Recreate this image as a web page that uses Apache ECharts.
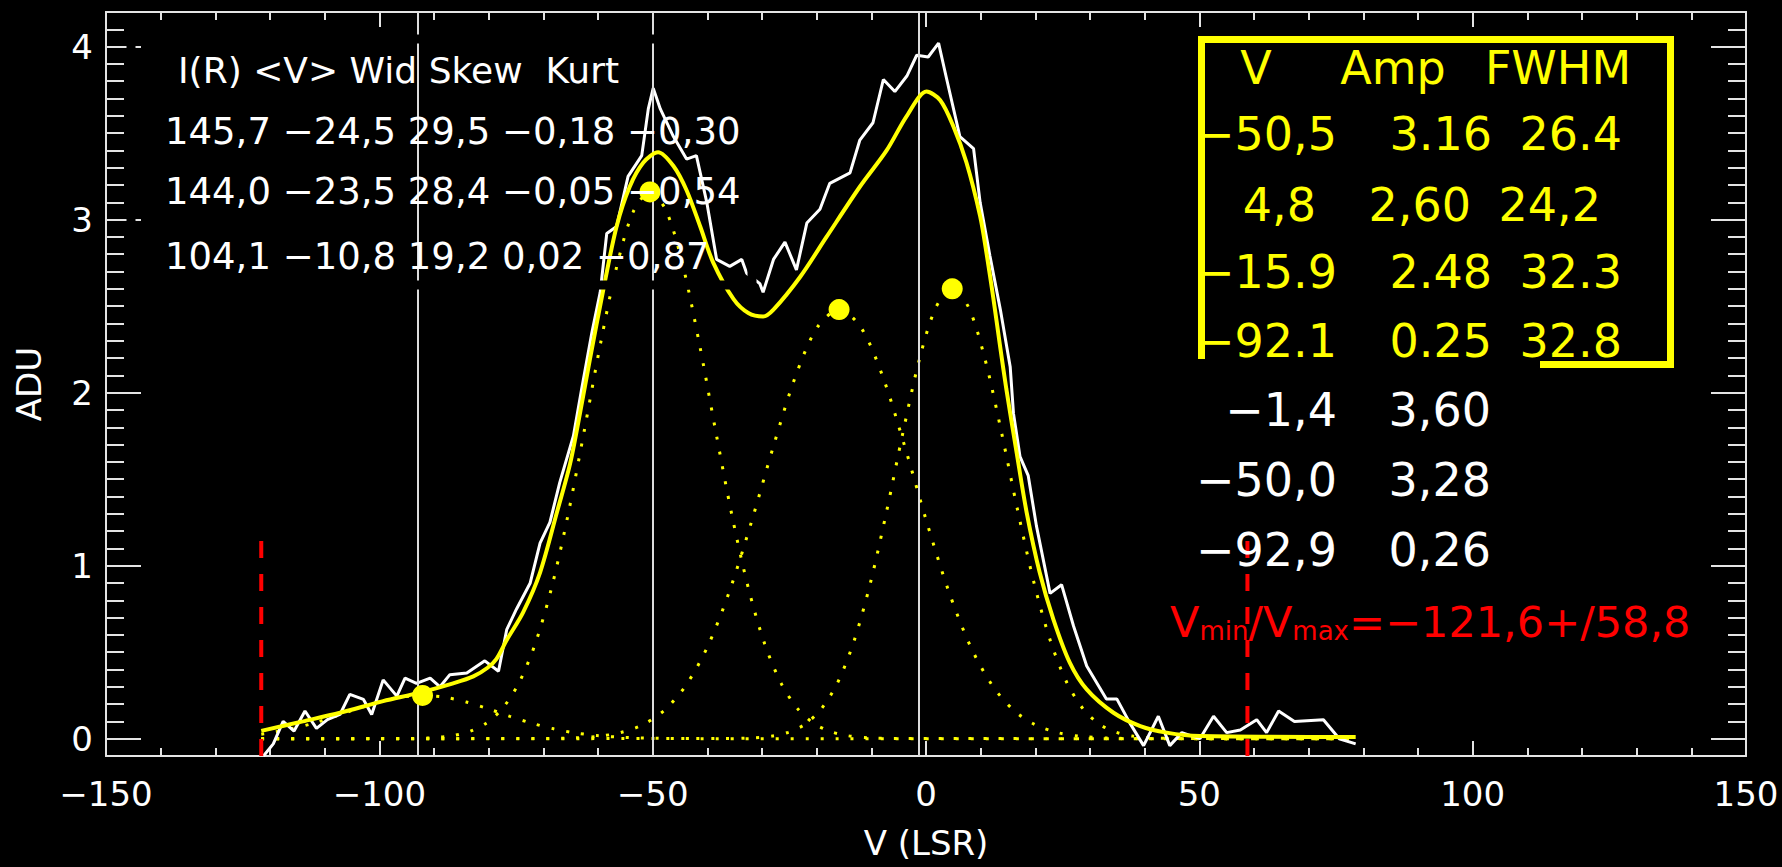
<!DOCTYPE html>
<html><head><meta charset="utf-8">
<script src="https://cdn.jsdelivr.net/npm/echarts@6/dist/echarts.min.js"></script>
<style>html,body{margin:0;padding:0;background:#000;}#c{width:1782px;height:867px;}</style>
</head><body><div id="c"></div>
<script>
// ---------- data ----------
const xTicks = [-150, -100, -50, 0, 50, 100, 150];
const yTicks = [0, 1, 2, 3, 4];

// observed spectrum (white)
const observed = [
  [-121.2,-0.10],[-119.4,-0.03],[-117.6,0.10],[-115.6,0.044],[-113.6,0.16],[-111.5,0.06],
  [-109.5,0.11],[-107.2,0.14],[-105.4,0.256],[-102.9,0.227],[-101.4,0.14],[-99.3,0.34],
  [-96.8,0.246],[-95.3,0.35],[-93.2,0.32],[-90.7,0.35],[-88.9,0.30],[-87.1,0.37],
  [-84.0,0.38],[-80.7,0.45],[-78.2,0.39],[-76.7,0.63],[-74.9,0.75],[-72.4,0.90],
  [-70.6,1.13],[-68.8,1.25],[-67.0,1.48],[-64.5,1.75],[-63.0,2.02],[-61.1,2.35],
  [-59.6,2.58],[-58.4,2.92],[-56.6,2.96],[-54.5,3.25],[-52.0,3.37],[-50.8,3.64],
  [-49.9,3.76],[-48.6,3.64],[-46.2,3.48],[-43.8,3.35],[-42.0,3.37],[-40.1,3.10],
  [-38.3,2.77],[-35.9,2.73],[-33.7,2.77],[-32.8,2.69],[-30.4,2.63],[-29.8,2.58],
  [-27.9,2.77],[-25.8,2.87],[-23.7,2.71],[-21.8,2.98],[-19.4,3.06],[-17.6,3.21],
  [-13.9,3.27],[-12.1,3.46],[-9.7,3.56],[-7.8,3.81],[-5.7,3.74],[-3.5,3.83],
  [-1.7,3.95],[0.4,3.94],[2.3,4.02],[3.8,3.81],[6.2,3.48],[8.7,3.41],
  [9.9,3.10],[11.7,2.79],[13.6,2.48],[15.4,2.15],[16.0,1.88],[17.2,1.63],
  [18.7,1.52],[20.2,1.23],[22.7,0.84],[24.8,0.89],[27.0,0.65],[29.4,0.42],
  [33.0,0.23],[34.9,0.23],[37.3,0.09],[39.8,-0.04],[42.5,0.13],[44.6,-0.04],
  [46.8,0.035],[50.1,0.0],[52.6,0.13],[55.0,0.035],[57.5,0.05],[60.5,0.11],
  [62.3,0.035],[64.5,0.16],[67.4,0.10],[72.7,0.11],[75.6,0.0],[78.6,-0.03]
];

// total fit (yellow solid)
const fitTotal = [
  [-121.6,0.045],[-114,0.10],[-107.2,0.15],[-99.3,0.217],[-92.6,0.266],[-86.5,0.32],
  [-82.8,0.36],[-80.2,0.41],[-78.6,0.46],[-76.7,0.57],[-73.7,0.73],[-70.6,0.96],
  [-67.5,1.31],[-65.1,1.59],[-63.3,1.88],[-61.5,2.19],[-59.0,2.60],[-56.6,2.96],
  [-54.2,3.19],[-51.7,3.33],[-49.0,3.39],[-46.2,3.31],[-43.8,3.17],[-41.3,2.96],
  [-38.9,2.75],[-35.2,2.54],[-32.5,2.46],[-29.8,2.44],[-27.9,2.48],[-23.0,2.67],
  [-18.2,2.90],[-12.1,3.19],[-7.2,3.40],[-3.5,3.60],[0.1,3.74],[2.6,3.69],
  [5.0,3.54],[7.4,3.33],[9.9,3.02],[11.1,2.80],[12.3,2.55],[13.5,2.28],
  [14.7,2.02],[16.6,1.65],[18.4,1.31],[20.8,0.96],[23.3,0.69],[26.3,0.44],
  [29.4,0.285],[34.3,0.15],[39.2,0.073],[44.0,0.035],[50.1,0.015],[78.6,0.01]
];

// gaussian components (yellow dotted)
const comp1 = [
  [-121.6,0],[-95.5,0.001],[-90.5,0.005],[-86.5,0.018],[-83.5,0.042],[-80.5,0.088],
  [-77.5,0.174],[-74.5,0.320],[-71.5,0.547],[-68.5,0.871],[-65.5,1.291],[-62.5,1.782],
  [-59.5,2.290],[-56.5,2.738],[-53.5,3.049],[-50.5,3.16],[-47.5,3.049],[-44.5,2.738],
  [-41.5,2.290],[-38.5,1.782],[-35.5,1.291],[-32.5,0.871],[-29.5,0.547],[-26.5,0.320],
  [-23.5,0.174],[-20.5,0.088],[-17.5,0.042],[-14.5,0.018],[-10.5,0.005],[-5.5,0.001],[78.6,0]
];
const comp2 = [
  [-121.6,0],[-37.2,0.001],[-32.2,0.004],[-28.2,0.015],[-25.2,0.037],[-22.2,0.082],
  [-19.2,0.170],[-16.2,0.322],[-13.2,0.561],[-10.2,0.896],[-7.2,1.315],[-4.2,1.772],
  [-1.2,2.193],[1.8,2.492],[4.8,2.60],[7.8,2.492],[10.8,2.193],[13.8,1.772],
  [16.8,1.315],[19.8,0.896],[22.8,0.561],[25.8,0.322],[28.8,0.170],[31.8,0.082],
  [34.8,0.037],[37.8,0.015],[41.8,0.004],[46.8,0.001],[78.6,0]
];
const comp3 = [
  [-121.6,0],[-70.9,0.001],[-64.9,0.004],[-59.9,0.014],[-55.9,0.035],[-51.9,0.079],
  [-47.9,0.163],[-43.9,0.309],[-39.9,0.536],[-35.9,0.857],[-31.9,1.256],[-27.9,1.691],
  [-23.9,2.092],[-19.9,2.377],[-15.9,2.48],[-11.9,2.377],[-7.9,2.092],[-3.9,1.691],
  [0.1,1.256],[4.1,0.857],[8.1,0.536],[12.1,0.309],[16.1,0.163],[20.1,0.079],
  [24.1,0.035],[28.1,0.014],[33.1,0.004],[39.1,0.001],[78.6,0]
];
const comp4 = [
  [-121.6,0.026],[-120.1,0.033],[-116.1,0.057],[-112.1,0.089],[-108.1,0.129],[-104.1,0.173],
  [-100.1,0.212],[-96.1,0.240],[-92.1,0.25],[-88.1,0.240],[-84.1,0.212],[-80.1,0.173],
  [-76.1,0.129],[-72.1,0.089],[-68.1,0.057],[-64.1,0.033],[-60.1,0.018],[-56.1,0.009],
  [-50.1,0.003],[-42.1,0.0004],[78.6,0]
];

// component peaks (yellow dots)
const compV = [-50.5, 4.8, -15.9, -92.1];
const compAmp = [3.16, 2.60, 2.48, 0.25];

// moment centroids (white vertical lines)
const centroidV = [-92.9, -50.0, -1.4];

// velocity window (red dashed)
const vWindow = [-121.6, 58.8];

// text tables
const momentHeader = 'I(R) <V> Wid Skew  Kurt';
const momentRows = ['145,7 −24,5 29,5 −0,18 −0,30', '144,0 −23,5 28,4 −0,05 −0,54', '104,1 −10,8 19,2 0,02 −0,87'];
const gaussHeader = ['V', 'Amp', 'FWHM'];
const gaussVText = ['−50,5', '4,8', '−15.9', '−92.1'];
const gaussAmpText = ['3.16', '2,60', '2.48', '0.25'];
const gaussFwhmText = ['26.4', '24,2', '32.3', '32.8'];
const peakVText = ['−1,4', '−50,0', '−92,9'];
const peakAmpText = ['3,60', '3,28', '0,26'];
const windowText = ['V', 'min', '/V', 'max', '=−121,6+/58,8'];

// ---------- chart ----------
const FONT = '"DejaVu Sans", "Liberation Sans", sans-serif';
const AX = '#e4e4e4';
const YEL = '#ffff00';
const RED = '#ff0000';
const yMin = -0.1, yMax = 4.2, redTop = 1.17;

const minorY = [];
for (let i = 1; i <= 41; i++) if (i % 10 !== 0) minorY.push(i / 10);

const minus = v => String(v).replace('-', '−');

function xAx(pos, labels) {
  return {
    type: 'value', position: pos, min: -150, max: 150, interval: 50,
    axisLine: { show: true, onZero: false, lineStyle: { color: AX, width: 2 } },
    axisTick: { show: true, inside: true, length: 15, lineStyle: { color: AX, width: 2 } },
    minorTick: { show: true, splitNumber: 5, length: 8, lineStyle: { color: AX, width: 2 } },
    splitLine: { show: false }, minorSplitLine: { show: false },
    axisLabel: labels ? { show: true, color: '#fff', fontSize: 34, fontFamily: FONT, margin: 21, formatter: minus } : { show: false },
    name: labels ? 'V (LSR)' : '', nameLocation: 'middle', nameGap: 70,
    nameTextStyle: { color: '#fff', fontSize: 34, fontFamily: FONT }
  };
}
function yAx(pos, ticks, len, labels) {
  return {
    type: 'value', position: pos, min: yMin, max: yMax,
    axisLine: { show: true, onZero: false, lineStyle: { color: AX, width: 2 } },
    axisTick: { show: true, inside: true, length: len, customValues: ticks, lineStyle: { color: AX, width: 2 } },
    splitLine: { show: false },
    axisLabel: labels ? { show: true, customValues: yTicks, color: '#fff', fontSize: 34, fontFamily: FONT, margin: 13 } : { show: false },
    name: labels ? 'ADU' : '', nameLocation: 'middle', nameGap: 60, nameRotate: 90,
    nameTextStyle: { color: '#fff', fontSize: 34, fontFamily: FONT }
  };
}

function dotted(data) {
  return { type: 'line', data, showSymbol: false, smooth: 0.3, z: 3, silent: true,
    lineStyle: { color: YEL, width: 3, type: [3, 12], cap: 'butt' } };
}

const graphics = [];
// black outline box around moment table (erases what it crosses)
graphics.push({ type: 'rect', z: 100, shape: { x: 131, y: 39, width: 621, height: 246 },
  style: { fill: 'none', stroke: '#000', lineWidth: 9 } });
// moment table text
graphics.push({ type: 'text', z: 102, x: 178, y: 70,
  style: { text: momentHeader, fill: '#fff', fontSize: 36, fontFamily: FONT, align: 'left', verticalAlign: 'middle' } });
const momentY = [131, 191, 256];
momentRows.forEach((t, i) => graphics.push({ type: 'text', z: 102, x: 165, y: momentY[i],
  style: { text: t, fill: '#fff', fontSize: 37, fontFamily: FONT, align: 'left', verticalAlign: 'middle' } }));

// yellow gaussian table
graphics.push({ type: 'rect', z: 100, shape: { x: 1201.5, y: 39.5, width: 469, height: 325 },
  style: { fill: '#000', stroke: YEL, lineWidth: 7 } });
const headX = [1256, 1393, 1558];
gaussHeader.forEach((t, i) => graphics.push({ type: 'text', z: 102, x: headX[i], y: 68,
  style: { text: t, fill: YEL, fontSize: 46, fontFamily: FONT, align: 'center', verticalAlign: 'middle' } }));
const gRowY = [134, 205, 272, 341];
const gShift = [0, -21, 0, 0];
const gColX = [1337, 1492, 1622];
[gaussVText, gaussAmpText, gaussFwhmText].forEach((col, c) => col.forEach((t, r) =>
  graphics.push({ type: 'text', z: 102, x: gColX[c] + gShift[r], y: gRowY[r],
    style: { text: t, fill: YEL, fontSize: 46, fontFamily: FONT, align: 'right', verticalAlign: 'middle' } })));
// black strip (the peak-table box edge) over the bottom of the yellow box
graphics.push({ type: 'rect', z: 103, shape: { x: 1194, y: 359, width: 346, height: 13 },
  style: { fill: '#000', stroke: 'none' } });

// white peak table
const pRowY = [410, 480, 550];
peakVText.forEach((t, r) => graphics.push({ type: 'text', z: 102, x: 1337, y: pRowY[r],
  style: { text: t, fill: '#fff', fontSize: 46, fontFamily: FONT, align: 'right', verticalAlign: 'middle' } }));
peakAmpText.forEach((t, r) => graphics.push({ type: 'text', z: 102, x: 1491, y: pRowY[r],
  style: { text: t, fill: '#fff', fontSize: 46, fontFamily: FONT, align: 'right', verticalAlign: 'middle' } }));

// red window text
graphics.push({ type: 'text', z: 102, x: 1170, y: 622,
  style: {
    text: '{a|' + windowText[0] + '}{b|' + windowText[1] + '}{a|' + windowText[2] + '}{b|' + windowText[3] + '}{a|' + windowText[4] + '}',
    align: 'left', verticalAlign: 'middle',
    rich: {
      a: { fill: RED, fontSize: 43, fontFamily: FONT, verticalAlign: 'bottom' },
      b: { fill: RED, fontSize: 26, fontFamily: FONT, verticalAlign: 'bottom' }
    }
  } });

const option = {
  backgroundColor: '#000',
  animation: false,
  grid: { left: 106, right: 36, top: 12, bottom: 111, containLabel: false },
  xAxis: [xAx('bottom', true), xAx('top', false)],
  yAxis: [yAx('left', yTicks, 35, true), yAx('left', minorY, 18, false),
          yAx('right', yTicks, 35, false), yAx('right', minorY, 18, false)],
  series: [
    { type: 'line', data: [], z: 1, silent: true,
      markLine: { silent: true, symbol: ['none', 'none'], label: { show: false },
        lineStyle: { color: '#dcdcdc', width: 2, type: 'solid' },
        data: centroidV.map(v => ({ xAxis: v })) } },
    dotted(comp1), dotted(comp2), dotted(comp3), dotted(comp4),
    { type: 'line', data: observed, showSymbol: false, z: 4, silent: true,
      lineStyle: { color: '#ffffff', width: 3 } },
    { type: 'line', data: fitTotal, showSymbol: false, smooth: 0.3, z: 5, silent: true,
      lineStyle: { color: YEL, width: 4 } },
    { type: 'scatter', data: compV.map((v, i) => [v, compAmp[i]]), symbol: 'circle', symbolSize: 21, z: 6, silent: true,
      itemStyle: { color: YEL, opacity: 1 } },
    ...vWindow.map(v => ({ type: 'line', data: [[v, yMin], [v, redTop]], showSymbol: false, z: 7, silent: true,
      lineStyle: { color: RED, width: 4, type: [17, 16], cap: 'butt' } }))
  ],
  graphic: graphics
};

const chart = echarts.init(document.getElementById('c'), null, { renderer: 'svg', width: 1782, height: 867 });
chart.setOption(option);
</script></body></html>
